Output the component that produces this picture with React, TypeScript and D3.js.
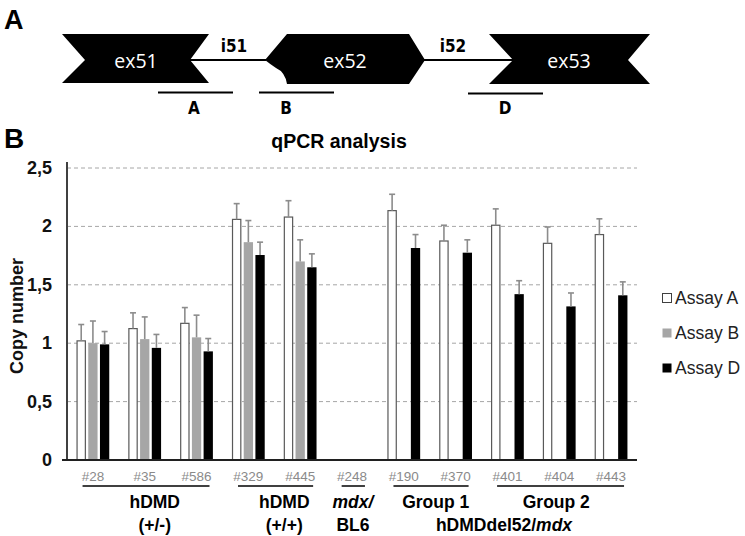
import React from "react";
import * as d3 from "d3";

const categories = ["#28", "#35", "#586", "#329", "#445", "#248", "#190", "#370", "#401", "#404", "#443"];
const seriesNames = ["Assay A", "Assay B", "Assay D"];
const assayA = [1.02, 1.125, 1.17, 2.06, 2.08, null, 2.135, 1.875, 2.01, 1.855, 1.93];
const assayB = [1.0, 1.035, 1.05, 1.865, 1.7, null, null, null, null, null, null];
const assayD = [0.99, 0.96, 0.93, 1.755, 1.65, null, 1.815, 1.775, 1.42, 1.315, 1.41];
const errA = [0.14, 0.135, 0.135, 0.135, 0.14, null, 0.14, 0.135, 0.14, 0.14, 0.135];
const errB = [0.19, 0.19, 0.19, 0.185, 0.185, null, null, null, null, null, null];
const errD = [0.11, 0.115, 0.11, 0.11, 0.115, null, 0.115, 0.11, 0.115, 0.115, 0.115];
const yTicks = [0, 0.5, 1, 1.5, 2, 2.5];
const groupFirst = ["#28", "#329", "#248", "#190", "#401"];
const groupLast = ["#586", "#445", "#248", "#370", "#443"];
const groupLabels = [["hDMD", "(+/-)"], ["hDMD", "(+/+)"], ["mdx/", "BL6"], ["Group 1"], ["Group 2"]];
const groupItalic = [false, false, true, false, false];
const bottomLabelStart = "hDMDdel52/";
const bottomLabelItalic = "mdx";
const title = "qPCR analysis";
const yTitle = "Copy number";

// layout
const groupLabelDx = [10, 10, 1, 6, -3];
const FONT = "'Liberation Sans', Arial, sans-serif";
const NARROW = "'Liberation Sans Narrow', 'DejaVu Sans Condensed', 'Liberation Sans', sans-serif";

const colors = ["#ffffff", "#a6a6a6", "#000000"];
const strokes = ["#595959", "none", "none"];

export default function App() {
  const plotL = 67, plotR = 637, y0 = 460, yTop = 168;
  const x0 = d3.scaleBand<string>().domain(categories).range([plotL, plotR]).padding(0);
  const bw = x0.bandwidth();
  const x1 = d3.scaleBand<string>().domain(seriesNames)
    .range([bw / 2 - 16.35, bw / 2 + 16.35]).paddingInner(0.205).paddingOuter(0);
  const y = d3.scaleLinear().domain([0, 2.5]).range([y0, yTop]);
  const values = [assayA, assayB, assayD];
  const errs = [errA, errB, errD];
  const cx = (c: string) => (x0(c) as number) + bw / 2;

  const bars: React.ReactNode[] = [];
  const errBars: React.ReactNode[] = [];
  categories.forEach((c, i) => {
    seriesNames.forEach((s, k) => {
      const v = values[k][i];
      if (v == null) return;
      const bx = (x0(c) as number) + (x1(s) as number);
      const w = x1.bandwidth();
      if (k === 0) {
        bars.push(<rect key={`b${i}-${k}`} x={bx + 0.5} y={y(v)} width={w - 1} height={y0 - y(v)}
          fill={colors[k]} stroke={strokes[k]} strokeWidth={1.2} />);
      } else {
        bars.push(<rect key={`b${i}-${k}`} x={bx} y={y(v)} width={w} height={y0 - y(v)} fill={colors[k]} />);
      }
      const e = errs[k][i];
      if (e != null) {
        const mx = bx + w / 2;
        errBars.push(
          <g key={`e${i}-${k}`} stroke="#8c8c8c" strokeWidth={1.6}>
            <line x1={mx} x2={mx} y1={y(v)} y2={y(v + e)} />
            <line x1={mx - 3} x2={mx + 3} y1={y(v + e)} y2={y(v + e)} />
          </g>
        );
      }
    });
  });

  return (
    <svg width={745} height={536} style={{ position: "absolute", left: 0, top: 0, background: "#fff" }}>
      <rect width={745} height={536} fill="#fff" />
      {/* Panel A diagram */}
      <text x={4} y={29} fontFamily={FONT} fontWeight="bold" fontSize={27}>A</text>
      <line x1={190} x2={266} y1={60} y2={60} stroke="#000" strokeWidth={2} />
      <line x1={424} x2={513} y1={60} y2={60} stroke="#000" strokeWidth={2} />
      <path d="M62,34 L209,34 L190,60 L209,83 L62,83 L85,60 Z" fill="#000" />
      <path d="M265,60 L287,34 L409,34 L425,60 L409,84 L287,84 Q285,72 276,68 Q270,64 265,60 Z" fill="#000" />
      <path d="M489,34 L650,34 L628,60 L650,84 L489,84 L513,60 Z" fill="#000" />
      <text x={136} y={68} fill="#fff" fontFamily="'Open Sans', sans-serif" fontSize={19.5} textAnchor="middle">ex51</text>
      <text x={345} y={68} fill="#fff" fontFamily="'Open Sans', sans-serif" fontSize={19.5} textAnchor="middle">ex52</text>
      <text x={569} y={68} fill="#fff" fontFamily="'Open Sans', sans-serif" fontSize={19.5} textAnchor="middle">ex53</text>
      <text x={234} y={52} fontFamily={NARROW} fontWeight="bold" fontSize={17} textAnchor="middle">i51</text>
      <text x={453} y={52} fontFamily={NARROW} fontWeight="bold" fontSize={17} textAnchor="middle">i52</text>
      <line x1={158} x2={233} y1={92.5} y2={92.5} stroke="#000" strokeWidth={2} />
      <line x1={259} x2={334} y1={92.5} y2={92.5} stroke="#000" strokeWidth={2} />
      <line x1={468} x2={543} y1={93.5} y2={93.5} stroke="#000" strokeWidth={2} />
      <text x={194} y={114} fontFamily={NARROW} fontWeight="bold" fontSize={17} textAnchor="middle">A</text>
      <text x={286} y={114} fontFamily={NARROW} fontWeight="bold" fontSize={17} textAnchor="middle">B</text>
      <text x={505} y={114} fontFamily={NARROW} fontWeight="bold" fontSize={17} textAnchor="middle">D</text>

      {/* Panel B */}
      <text x={4} y={148} fontFamily={FONT} fontWeight="bold" fontSize={28}>B</text>
      <text x={339} y={148} fontFamily={FONT} fontWeight="bold" fontSize={19.5} textAnchor="middle">{title}</text>

      {yTicks.filter(t => t > 0).map(t => (
        <line key={`g${t}`} x1={plotL} x2={plotR} y1={y(t)} y2={y(t)} stroke="#a6a6a6" strokeWidth={1} strokeDasharray="4,3" />
      ))}
      {yTicks.map(t => (
        <text key={`t${t}`} x={52} y={y(t) + 6} fontFamily={FONT} fontWeight="bold" fontSize={18} textAnchor="end" fill="#111">
          {String(t).replace(".", ",")}
        </text>
      ))}
      <text transform={`translate(23,${(y0 + yTop) / 2 + 2}) rotate(-90)`} fontFamily={FONT} fontWeight="bold" fontSize={18} textAnchor="middle" fill="#111">{yTitle}</text>

      {bars}
      {errBars}
      <line x1={plotL} x2={plotL} y1={162} y2={y0} stroke="#404040" strokeWidth={2} />
      <line x1={62} x2={plotR} y1={y0} y2={y0} stroke="#202020" strokeWidth={2} />

      {categories.map(c => (
        <text key={`c${c}`} x={cx(c)} y={481} fontFamily={FONT} fontSize={13.5} textAnchor="middle" fill="#8a8a8a">{c}</text>
      ))}
      {groupFirst.map((f, g) => {
        const xa = (x0(f) as number) + bw * 0.3;
        const xb = (x0(groupLast[g]) as number) + bw * 0.75;
        const mid = (cx(f) + cx(groupLast[g])) / 2 + groupLabelDx[g];
        return (
          <g key={`grp${g}`}>
            <line x1={xa} x2={xb} y1={486} y2={486} stroke="#000" strokeWidth={1.5} />
            {groupLabels[g].map((l, j) => (
              <text key={j} x={mid} y={508 + j * 23} fontFamily={FONT} fontWeight="bold" fontSize={17.5} textAnchor="middle"
                fontStyle={groupItalic[g] && j === 0 ? "italic" : "normal"}>{l}</text>
            ))}
          </g>
        );
      })}
      <text x={504} y={531} fontFamily={FONT} fontWeight="bold" fontSize={17.5} textAnchor="middle">
        {bottomLabelStart}<tspan fontStyle="italic">{bottomLabelItalic}</tspan>
      </text>

      {/* Legend */}
      {seriesNames.map((s, k) => (
        <g key={`l${s}`} transform={`translate(662,${293 + k * 35})`}>
          <rect x={0.5} y={0.5} width={9} height={9} fill={colors[k]} stroke={k === 0 ? "#404040" : "none"} strokeWidth={1} />
          <text x={13} y={11} fontFamily={FONT} fontSize={17.5} fill="#222">{s}</text>
        </g>
      ))}
    </svg>
  );
}
